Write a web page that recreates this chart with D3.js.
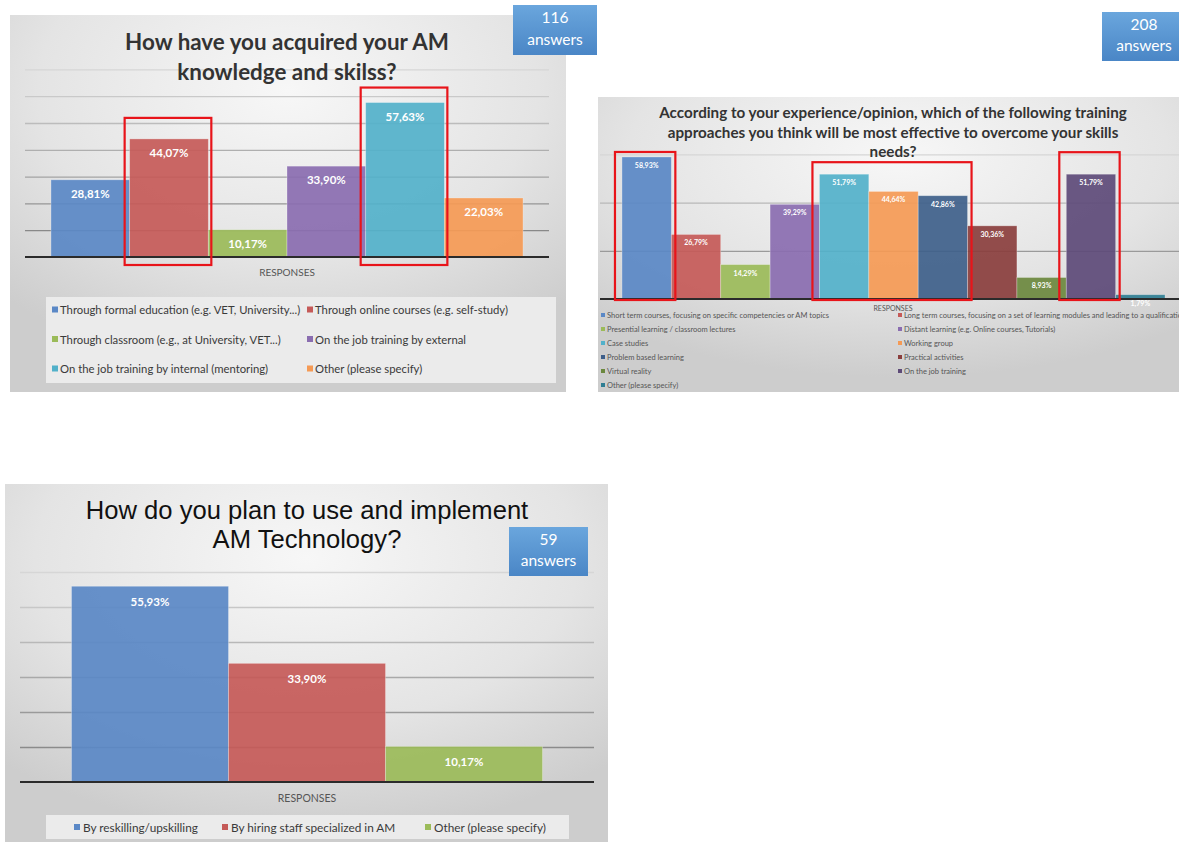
<!DOCTYPE html>
<html>
<head>
<meta charset="utf-8">
<script src="https://cdn.jsdelivr.net/npm/d3@7"></script>
<style>
  html, body { margin: 0; padding: 0; background: #ffffff; }
  svg { display: block; }
  text { font-family: Lato, "Open Sans", "DejaVu Sans", sans-serif; }
</style>
</head>
<body>
<svg id="chart" width="1179" height="842"></svg>
<script>
// ---------------- DATA ----------------
// Chart 1: How have you acquired your AM knowledge and skills?
const c1Title = ["How have you acquired your AM", "knowledge and skilss?"];
const c1Answers = ["116", "answers"];
const c1Categories = [
  "Through formal education (e.g. VET, University...)",
  "Through online courses (e.g. self-study)",
  "Through classroom (e.g., at University, VET...)",
  "On the job training by external",
  "On the job training by internal (mentoring)",
  "Other (please specify)"
];
const c1Values = [28.81, 44.07, 10.17, 33.90, 57.63, 22.03];
const c1Ticks = [10, 20, 30, 40, 50, 60, 70];
const c1Highlights = [[1, 1], [4, 4]];

// Chart 2: training approaches
const c2Title = [
  "According to your experience/opinion, which of the following training",
  "approaches you think will be most effective to overcome your skills",
  "needs?"
];
const c2Answers = ["208", "answers"];
const c2Categories = [
  "Short term courses, focusing on specific competencies or AM topics",
  "Long term courses, focusing on a set of learning modules and leading to a qualification",
  "Presential learning / classroom lectures",
  "Distant learning (e.g. Online courses, Tutorials)",
  "Case studies",
  "Working group",
  "Problem based learning",
  "Practical activities",
  "Virtual reality",
  "On the job training",
  "Other (please specify)"
];
const c2Values = [58.93, 26.79, 14.29, 39.29, 51.79, 44.64, 42.86, 30.36, 8.93, 51.79, 1.79];
const c2Ticks = [20, 40, 60];
const c2Highlights = [[0, 0], [4, 6], [9, 9]];

// Chart 3: How do you plan to use and implement AM Technology?
const c3Title = ["How do you plan to use and implement", "AM Technology?"];
const c3Answers = ["59", "answers"];
const c3Categories = [
  "By reskilling/upskilling",
  "By hiring staff specialized in AM",
  "Other (please specify)"
];
const c3Values = [55.93, 33.90, 10.17];
const c3Ticks = [10, 20, 30, 40, 50, 60];

const axisLabel = "RESPONSES";

// ---------------- STYLES ----------------
const palette = ["#5a88c6", "#c55a58", "#9bbb59", "#8a6db0", "#52b1ca", "#f59a55",
                 "#3e5f8a", "#8a3e3d", "#6b883e", "#5d4a78", "#2f7e93"];

const svg = d3.select("#chart");
const defs = svg.append("defs");

const bg = defs.append("radialGradient").attr("id", "panelBg")
  .attr("cx", "50%").attr("cy", "20%").attr("r", "75%");
bg.append("stop").attr("offset", "0%").attr("stop-color", "#f7f7f7");
bg.append("stop").attr("offset", "60%").attr("stop-color", "#e4e4e4");
bg.append("stop").attr("offset", "100%").attr("stop-color", "#cdcdcd");

const boxGrad = defs.append("linearGradient").attr("id", "boxBg")
  .attr("x1", 0).attr("y1", 0).attr("x2", 0).attr("y2", 1);
boxGrad.append("stop").attr("offset", "0%").attr("stop-color", "#6aa6dd");
boxGrad.append("stop").attr("offset", "100%").attr("stop-color", "#4a86c6");

const fmt = v => d3.format(".2f")(v).replace(".", ",") + "%";

function answerBox(x, y, w, h, lines, fs) {
  svg.append("rect").attr("x", x).attr("y", y).attr("width", w).attr("height", h)
    .attr("fill", "url(#boxBg)");
  lines.forEach((t, i) => {
    svg.append("text").attr("x", x + w / 2).attr("y", y + h * (i === 0 ? 0.36 : 0.8))
      .attr("text-anchor", "middle").attr("fill", "#ffffff")
      .attr("font-size", fs).text(t);
  });
}

function drawChart(o) {
  const g = svg.append("g");
  g.append("rect").attr("x", o.panel[0]).attr("y", o.panel[1])
    .attr("width", o.panel[2]).attr("height", o.panel[3]).attr("fill", "url(#panelBg)");

  const x = d3.scaleBand().domain(o.categories).range(o.xRange)
    .paddingInner(0).paddingOuter(o.outer);
  const y = d3.scaleLinear().domain([0, o.yMax]).range(o.yRange);

  const grid = g.append("g").attr("transform", `translate(${o.gridX[0]},0)`)
    .call(d3.axisLeft(y).tickValues(o.ticks).tickSize(-(o.gridX[1] - o.gridX[0])).tickFormat(""));
  grid.select(".domain").remove();
  const shade = d3.scaleLinear().domain([0, o.yMax]).range(["#7c7c7c", "#d6d6d6"]);
  grid.selectAll(".tick line").attr("stroke", d => shade(d)).attr("stroke-width", 1.3);

  g.selectAll(".bar").data(o.values).join("rect")
    .attr("x", (d, i) => x(o.categories[i]))
    .attr("y", d => y(d))
    .attr("width", x.bandwidth())
    .attr("height", d => y(0) - y(d))
    .attr("fill", (d, i) => palette[i])
    .attr("fill-opacity", 0.92)
    .attr("stroke", "#ffffff").attr("stroke-opacity", 0.35).attr("stroke-width", 0.8);

  g.selectAll(".lbl").data(o.values).join("text")
    .attr("x", (d, i) => x(o.categories[i]) + x.bandwidth() / 2)
    .attr("y", d => y(d) + o.labelDy)
    .attr("text-anchor", "middle").attr("fill", "#ffffff")
    .attr("font-weight", "bold").attr("font-size", o.labelFs)
    .text(d => fmt(d));

  g.append("line").attr("x1", o.gridX[0]).attr("x2", o.gridX[1])
    .attr("y1", y(0)).attr("y2", y(0)).attr("stroke", "#2b2b2b").attr("stroke-width", 2);

  (o.highlights || []).forEach((h, k) => {
    const x0 = x(o.categories[h[0]]) - o.hlPad[0];
    const x1 = x(o.categories[h[1]]) + x.bandwidth() + o.hlPad[1];
    const top = y(d3.max(o.values.slice(h[0], h[1] + 1))) - o.hlTop[k];
    g.append("rect").attr("x", x0).attr("y", top)
      .attr("width", x1 - x0).attr("height", y(0) + o.hlBottom - top)
      .attr("fill", "none").attr("stroke", "#e8141a").attr("stroke-width", 2.2);
  });

  o.title.forEach((t, i) => {
    g.append("text").attr("x", o.titleX).attr("y", o.titleY + i * o.titleLh)
      .attr("text-anchor", "middle").attr("fill", o.titleColor)
      .attr("font-weight", o.titleWeight).attr("font-size", o.titleFs)
      .style("font-family", o.titleFont)
      .text(t);
  });

  g.append("text").attr("x", o.respX).attr("y", o.respY)
    .attr("text-anchor", "middle").attr("fill", "#555").attr("font-size", o.respFs)
    .text(axisLabel);

  return { x, y, g };
}

// ---------------- CHART 1 ----------------
drawChart({
  panel: [10, 15, 556, 377],
  categories: c1Categories, values: c1Values, ticks: c1Ticks,
  xRange: [25, 549], outer: 0.33, gridX: [25, 549],
  yMax: 70, yRange: [257, 69.4],
  labelDy: 18, labelFs: 11.5,
  highlights: c1Highlights, hlPad: [5, 3], hlTop: [21, 15], hlBottom: 8,
  title: c1Title, titleX: 287, titleY: 50, titleLh: 30, titleFs: 22.4,
  titleWeight: "bold", titleColor: "#333", titleFont: "Lato",
  respX: 287, respY: 276, respFs: 10
});
const lg1 = svg.append("g");
lg1.append("rect").attr("x", 46).attr("y", 297).attr("width", 510).attr("height", 86).attr("fill", "#ebebeb");
c1Categories.forEach((c, i) => {
  const col = i % 2, row = Math.floor(i / 2);
  const lx = col === 0 ? 52 : 307, ly = 310 + row * 29.5;
  lg1.append("rect").attr("x", lx).attr("y", ly - 3.5).attr("width", 6).attr("height", 6).attr("fill", palette[i]);
  lg1.append("text").attr("x", lx + 8).attr("y", ly + 4).attr("font-size", 11.3).attr("fill", "#3a3a3a").text(c);
});
answerBox(513, 5, 84, 50, c1Answers, 15.5);

// ---------------- CHART 2 ----------------
drawChart({
  panel: [598, 97, 600, 295],
  categories: c2Categories, values: c2Values, ticks: c2Ticks,
  xRange: [600, 1187], outer: 0.445, gridX: [600, 1187],
  yMax: 60, yRange: [299, 154.4],
  labelDy: 11, labelFs: 7,
  highlights: c2Highlights, hlPad: [7, 4], hlTop: [5, 12, 22], hlBottom: 1,
  title: c2Title, titleX: 893, titleY: 118, titleLh: 19.5, titleFs: 15.2,
  titleWeight: "bold", titleColor: "#333", titleFont: "Lato",
  respX: 893, respY: 311, respFs: 7
});
const lg2 = svg.append("g");
c2Categories.forEach((c, i) => {
  const col = i % 2, row = Math.floor(i / 2);
  const lx = col === 0 ? 601 : 898, ly = 315 + row * 14;
  lg2.append("rect").attr("x", lx).attr("y", ly - 2).attr("width", 4).attr("height", 4).attr("fill", palette[i]);
  lg2.append("text").attr("x", lx + 6).attr("y", ly + 2.5).attr("font-size", 7.5).attr("fill", "#555").text(c);
});
answerBox(1102, 12, 84, 49, c2Answers, 15.5);

// ---------------- CHART 3 ----------------
drawChart({
  panel: [5, 484, 603, 370],
  categories: c3Categories, values: c3Values, ticks: c3Ticks,
  xRange: [20, 594], outer: 0.328, gridX: [20, 594],
  yMax: 60, yRange: [782, 572],
  labelDy: 20, labelFs: 11.5,
  highlights: [], hlPad: [0, 0], hlTop: [], hlBottom: 0,
  title: c3Title, titleX: 307, titleY: 519, titleLh: 29, titleFs: 25.6,
  titleWeight: "normal", titleColor: "#111", titleFont: "Liberation Sans, Arial, sans-serif",
  respX: 307, respY: 802, respFs: 10.5
});
const lg3 = svg.append("g");
lg3.append("rect").attr("x", 46).attr("y", 815).attr("width", 523).attr("height", 24).attr("fill", "#ebebeb");
const lg3X = [74, 222, 425];
c3Categories.forEach((c, i) => {
  lg3.append("rect").attr("x", lg3X[i]).attr("y", 824).attr("width", 6).attr("height", 6).attr("fill", palette[i]);
  lg3.append("text").attr("x", lg3X[i] + 9).attr("y", 831.5).attr("font-size", 11.8).attr("fill", "#3a3a3a").text(c);
});
answerBox(509, 527, 79, 49, c3Answers, 15.5);
</script>
</body>
</html>
